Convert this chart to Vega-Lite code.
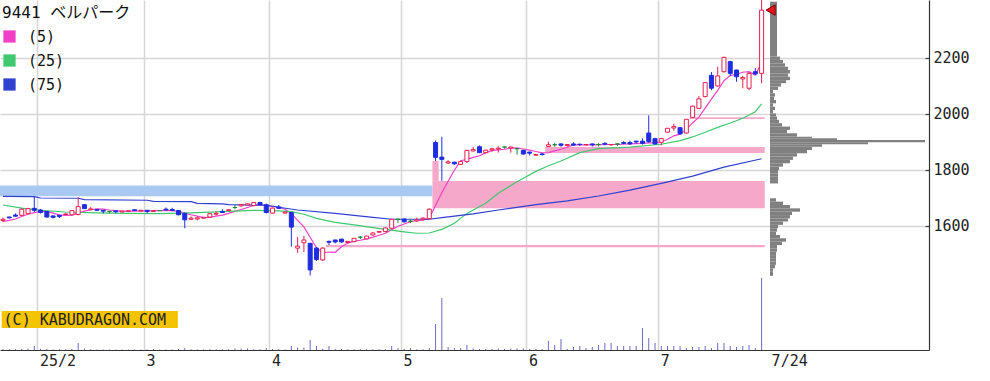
{
  "$schema": "https://vega.github.io/schema/vega-lite/v6.json",
  "width": 929,
  "height": 350,
  "autosize": {"type": "none"},
  "padding": {"left": 0, "top": 0, "right": 61, "bottom": 31},
  "background": "white",
  "config": {
    "view": {"stroke": null},
    "scale": {"continuousPadding": 0},
    "axis": {"gridColor": "#d6d6d6", "gridWidth": 1.5, "domainColor": "#333333", "domainWidth": 1.2, "labelFont": "DejaVu Sans Mono", "labelFontSize": 15, "labelColor": "#222222", "ticks": false, "title": null}
  },
  "datasets": {
    "candles": [
      {"n":0,"o":1620,"h":1630,"l":1614,"c":1624,"v":10},
      {"n":1,"o":1632,"h":1633,"l":1627,"c":1629,"v":8},
      {"n":2,"o":1639,"h":1645,"l":1634,"c":1635,"v":8},
      {"n":3,"o":1638,"h":1663,"l":1635,"c":1660,"v":12},
      {"n":4,"o":1644,"h":1665,"l":1642,"c":1662,"v":15},
      {"n":5,"o":1663,"h":1704,"l":1650,"c":1656,"v":40},
      {"n":6,"o":1657,"h":1661,"l":1645,"c":1648,"v":12},
      {"n":7,"o":1652,"h":1654,"l":1630,"c":1632,"v":12},
      {"n":8,"o":1636,"h":1637,"l":1627,"c":1631,"v":8},
      {"n":9,"o":1638,"h":1639,"l":1628,"c":1634,"v":8},
      {"n":10,"o":1641,"h":1645,"l":1640,"c":1643,"v":6},
      {"n":11,"o":1640,"h":1656,"l":1638,"c":1655,"v":10},
      {"n":12,"o":1641,"h":1702,"l":1638,"c":1669,"v":70},
      {"n":13,"o":1676,"h":1678,"l":1661,"c":1662,"v":15},
      {"n":14,"o":1658,"h":1668,"l":1657,"c":1661,"v":8},
      {"n":15,"o":1659,"h":1660,"l":1655,"c":1656,"v":6},
      {"n":16,"o":1656,"h":1657,"l":1645,"c":1653,"v":6},
      {"n":17,"o":1652,"h":1653,"l":1645,"c":1652,"v":5},
      {"n":18,"o":1654,"h":1655,"l":1645,"c":1651,"v":5},
      {"n":19,"o":1650,"h":1654,"l":1649,"c":1653,"v":5},
      {"n":20,"o":1652,"h":1655,"l":1651,"c":1654,"v":5},
      {"n":21,"o":1658,"h":1659,"l":1654,"c":1655,"v":6},
      {"n":22,"o":1653,"h":1657,"l":1652,"c":1656,"v":6},
      {"n":23,"o":1656,"h":1657,"l":1645,"c":1652,"v":6},
      {"n":24,"o":1652,"h":1656,"l":1651,"c":1655,"v":10},
      {"n":25,"o":1655,"h":1656,"l":1654,"c":1655,"v":5},
      {"n":26,"o":1660,"h":1666,"l":1657,"c":1657,"v":6},
      {"n":27,"o":1659,"h":1665,"l":1654,"c":1655,"v":6},
      {"n":28,"o":1655,"h":1656,"l":1638,"c":1640,"v":8},
      {"n":29,"o":1645,"h":1648,"l":1592,"c":1622,"v":20},
      {"n":30,"o":1624,"h":1634,"l":1622,"c":1628,"v":8},
      {"n":31,"o":1625,"h":1634,"l":1620,"c":1629,"v":6},
      {"n":32,"o":1628,"h":1632,"l":1627,"c":1631,"v":6},
      {"n":33,"o":1632,"h":1645,"l":1630,"c":1644,"v":8},
      {"n":34,"o":1642,"h":1652,"l":1638,"c":1645,"v":6},
      {"n":35,"o":1652,"h":1660,"l":1647,"c":1648,"v":8},
      {"n":36,"o":1655,"h":1659,"l":1654,"c":1658,"v":8},
      {"n":37,"o":1666,"h":1675,"l":1660,"c":1666,"v":15},
      {"n":38,"o":1672,"h":1678,"l":1668,"c":1677,"v":15},
      {"n":39,"o":1675,"h":1680,"l":1674,"c":1679,"v":15},
      {"n":40,"o":1673,"h":1685,"l":1672,"c":1684,"v":8},
      {"n":41,"o":1684,"h":1686,"l":1675,"c":1676,"v":8},
      {"n":42,"o":1676,"h":1680,"l":1645,"c":1648,"v":20},
      {"n":43,"o":1646,"h":1665,"l":1644,"c":1664,"v":10},
      {"n":44,"o":1668,"h":1675,"l":1662,"c":1663,"v":8},
      {"n":45,"o":1646,"h":1652,"l":1644,"c":1650,"v":8},
      {"n":46,"o":1648,"h":1650,"l":1526,"c":1596,"v":40},
      {"n":47,"o":1521,"h":1561,"l":1504,"c":1528,"v":25},
      {"n":48,"o":1540,"h":1565,"l":1507,"c":1550,"v":25},
      {"n":49,"o":1538,"h":1540,"l":1423,"c":1443,"v":100},
      {"n":50,"o":1521,"h":1525,"l":1475,"c":1480,"v":40},
      {"n":51,"o":1479,"h":1524,"l":1475,"c":1521,"v":12},
      {"n":52,"o":1545,"h":1548,"l":1532,"c":1542,"v":40},
      {"n":53,"o":1550,"h":1551,"l":1538,"c":1543,"v":10},
      {"n":54,"o":1553,"h":1554,"l":1540,"c":1543,"v":8},
      {"n":55,"o":1541,"h":1546,"l":1539,"c":1545,"v":8},
      {"n":56,"o":1544,"h":1557,"l":1542,"c":1556,"v":8},
      {"n":57,"o":1560,"h":1564,"l":1553,"c":1560,"v":8},
      {"n":58,"o":1554,"h":1565,"l":1552,"c":1564,"v":8},
      {"n":59,"o":1568,"h":1578,"l":1565,"c":1575,"v":8},
      {"n":60,"o":1578,"h":1582,"l":1576,"c":1580,"v":8},
      {"n":61,"o":1580,"h":1594,"l":1578,"c":1593,"v":8},
      {"n":62,"o":1592,"h":1626,"l":1590,"c":1624,"v":40},
      {"n":63,"o":1624,"h":1625,"l":1610,"c":1624,"v":20},
      {"n":64,"o":1625,"h":1626,"l":1612,"c":1615,"v":10},
      {"n":65,"o":1617,"h":1625,"l":1610,"c":1617,"v":20},
      {"n":66,"o":1618,"h":1630,"l":1614,"c":1622,"v":8},
      {"n":67,"o":1624,"h":1632,"l":1620,"c":1628,"v":8},
      {"n":68,"o":1626,"h":1663,"l":1622,"c":1660,"v":20},
      {"n":69,"o":1898,"h":1905,"l":1832,"c":1845,"v":260},
      {"n":70,"o":1846,"h":1919,"l":1761,"c":1838,"v":520},
      {"n":71,"o":1825,"h":1835,"l":1822,"c":1829,"v":30},
      {"n":72,"o":1828,"h":1829,"l":1818,"c":1822,"v":20},
      {"n":73,"o":1820,"h":1831,"l":1819,"c":1830,"v":20},
      {"n":74,"o":1830,"h":1872,"l":1825,"c":1870,"v":50},
      {"n":75,"o":1868,"h":1882,"l":1866,"c":1873,"v":15},
      {"n":76,"o":1883,"h":1888,"l":1860,"c":1862,"v":10},
      {"n":77,"o":1862,"h":1872,"l":1860,"c":1871,"v":10},
      {"n":78,"o":1872,"h":1877,"l":1865,"c":1876,"v":10},
      {"n":79,"o":1875,"h":1885,"l":1862,"c":1878,"v":15},
      {"n":80,"o":1882,"h":1883,"l":1876,"c":1882,"v":10},
      {"n":81,"o":1878,"h":1883,"l":1862,"c":1882,"v":15},
      {"n":82,"o":1876,"h":1877,"l":1855,"c":1876,"v":15},
      {"n":83,"o":1870,"h":1872,"l":1855,"c":1857,"v":15},
      {"n":84,"o":1864,"h":1865,"l":1852,"c":1860,"v":10},
      {"n":85,"o":1853,"h":1857,"l":1850,"c":1855,"v":10},
      {"n":86,"o":1857,"h":1861,"l":1852,"c":1855,"v":10},
      {"n":87,"o":1884,"h":1901,"l":1882,"c":1890,"v":90},
      {"n":88,"o":1890,"h":1897,"l":1883,"c":1890,"v":50},
      {"n":89,"o":1893,"h":1895,"l":1883,"c":1888,"v":110},
      {"n":90,"o":1887,"h":1893,"l":1884,"c":1891,"v":10},
      {"n":91,"o":1893,"h":1899,"l":1886,"c":1889,"v":30},
      {"n":92,"o":1892,"h":1894,"l":1886,"c":1891,"v":40},
      {"n":93,"o":1890,"h":1892,"l":1887,"c":1891,"v":20},
      {"n":94,"o":1893,"h":1894,"l":1884,"c":1890,"v":30},
      {"n":95,"o":1891,"h":1896,"l":1884,"c":1891,"v":50},
      {"n":96,"o":1895,"h":1899,"l":1888,"c":1892,"v":70},
      {"n":97,"o":1890,"h":1892,"l":1887,"c":1891,"v":70},
      {"n":98,"o":1893,"h":1894,"l":1886,"c":1893,"v":40},
      {"n":99,"o":1898,"h":1903,"l":1892,"c":1895,"v":40},
      {"n":100,"o":1898,"h":1905,"l":1890,"c":1893,"v":40},
      {"n":101,"o":1903,"h":1904,"l":1894,"c":1900,"v":40},
      {"n":102,"o":1903,"h":1913,"l":1891,"c":1895,"v":220},
      {"n":103,"o":1932,"h":1995,"l":1897,"c":1901,"v":120},
      {"n":104,"o":1912,"h":1915,"l":1890,"c":1893,"v":70},
      {"n":105,"o":1899,"h":1913,"l":1888,"c":1912,"v":40},
      {"n":106,"o":1935,"h":1950,"l":1933,"c":1949,"v":40},
      {"n":107,"o":1950,"h":1965,"l":1940,"c":1955,"v":40},
      {"n":108,"o":1951,"h":1953,"l":1925,"c":1929,"v":40},
      {"n":109,"o":1932,"h":1982,"l":1930,"c":1981,"v":20},
      {"n":110,"o":1988,"h":2030,"l":1988,"c":2028,"v":30},
      {"n":111,"o":2020,"h":2064,"l":2018,"c":2054,"v":30},
      {"n":112,"o":2062,"h":2114,"l":2060,"c":2112,"v":40},
      {"n":113,"o":2138,"h":2150,"l":2085,"c":2092,"v":20},
      {"n":114,"o":2100,"h":2169,"l":2098,"c":2136,"v":70},
      {"n":115,"o":2151,"h":2205,"l":2148,"c":2202,"v":70},
      {"n":116,"o":2187,"h":2190,"l":2136,"c":2145,"v":40},
      {"n":117,"o":2157,"h":2158,"l":2115,"c":2133,"v":30},
      {"n":118,"o":2125,"h":2136,"l":2092,"c":2130,"v":40},
      {"n":119,"o":2092,"h":2150,"l":2085,"c":2145,"v":50},
      {"n":120,"o":2151,"h":2164,"l":2140,"c":2143,"v":20},
      {"n":121,"o":2145,"h":2407,"l":2110,"c":2371,"v":720}
    ],
    "ma": [
      {"n":0,"k":"(5)","val":1616},{"n":1,"k":"(5)","val":1620},{"n":2,"k":"(5)","val":1625},{"n":3,"k":"(5)","val":1634},{"n":4,"k":"(5)","val":1642},{"n":5,"k":"(5)","val":1648},{"n":6,"k":"(5)","val":1652},{"n":7,"k":"(5)","val":1652},{"n":8,"k":"(5)","val":1646},{"n":9,"k":"(5)","val":1640},{"n":10,"k":"(5)","val":1638},{"n":11,"k":"(5)","val":1639},{"n":12,"k":"(5)","val":1646},{"n":13,"k":"(5)","val":1653},{"n":14,"k":"(5)","val":1658},{"n":15,"k":"(5)","val":1661},{"n":16,"k":"(5)","val":1660},{"n":17,"k":"(5)","val":1657},{"n":18,"k":"(5)","val":1655},{"n":19,"k":"(5)","val":1653},{"n":20,"k":"(5)","val":1653},{"n":21,"k":"(5)","val":1653},{"n":22,"k":"(5)","val":1654},{"n":23,"k":"(5)","val":1654},{"n":24,"k":"(5)","val":1654},{"n":25,"k":"(5)","val":1655},{"n":26,"k":"(5)","val":1655},{"n":27,"k":"(5)","val":1655},{"n":28,"k":"(5)","val":1652},{"n":29,"k":"(5)","val":1646},{"n":30,"k":"(5)","val":1640},{"n":31,"k":"(5)","val":1635},{"n":32,"k":"(5)","val":1630},{"n":33,"k":"(5)","val":1631},{"n":34,"k":"(5)","val":1635},{"n":35,"k":"(5)","val":1639},{"n":36,"k":"(5)","val":1645},{"n":37,"k":"(5)","val":1652},{"n":38,"k":"(5)","val":1659},{"n":39,"k":"(5)","val":1666},{"n":40,"k":"(5)","val":1673},{"n":41,"k":"(5)","val":1676},{"n":42,"k":"(5)","val":1673},{"n":43,"k":"(5)","val":1670},{"n":44,"k":"(5)","val":1667},{"n":45,"k":"(5)","val":1660},{"n":46,"k":"(5)","val":1644},{"n":47,"k":"(5)","val":1620},{"n":48,"k":"(5)","val":1597},{"n":49,"k":"(5)","val":1560},{"n":50,"k":"(5)","val":1522},{"n":51,"k":"(5)","val":1504},{"n":52,"k":"(5)","val":1507},{"n":53,"k":"(5)","val":1506},{"n":54,"k":"(5)","val":1526},{"n":55,"k":"(5)","val":1539},{"n":56,"k":"(5)","val":1546},{"n":57,"k":"(5)","val":1549},{"n":58,"k":"(5)","val":1554},{"n":59,"k":"(5)","val":1560},{"n":60,"k":"(5)","val":1567},{"n":61,"k":"(5)","val":1574},{"n":62,"k":"(5)","val":1587},{"n":63,"k":"(5)","val":1599},{"n":64,"k":"(5)","val":1607},{"n":65,"k":"(5)","val":1615},{"n":66,"k":"(5)","val":1620},{"n":67,"k":"(5)","val":1621},{"n":68,"k":"(5)","val":1628},{"n":69,"k":"(5)","val":1674},{"n":70,"k":"(5)","val":1719},{"n":71,"k":"(5)","val":1760},{"n":72,"k":"(5)","val":1799},{"n":73,"k":"(5)","val":1833},{"n":74,"k":"(5)","val":1838},{"n":75,"k":"(5)","val":1845},{"n":76,"k":"(5)","val":1851},{"n":77,"k":"(5)","val":1861},{"n":78,"k":"(5)","val":1870},{"n":79,"k":"(5)","val":1872},{"n":80,"k":"(5)","val":1874},{"n":81,"k":"(5)","val":1878},{"n":82,"k":"(5)","val":1879},{"n":83,"k":"(5)","val":1875},{"n":84,"k":"(5)","val":1871},{"n":85,"k":"(5)","val":1866},{"n":86,"k":"(5)","val":1861},{"n":87,"k":"(5)","val":1862},{"n":88,"k":"(5)","val":1868},{"n":89,"k":"(5)","val":1874},{"n":90,"k":"(5)","val":1881},{"n":91,"k":"(5)","val":1890},{"n":92,"k":"(5)","val":1890},{"n":93,"k":"(5)","val":1890},{"n":94,"k":"(5)","val":1890},{"n":95,"k":"(5)","val":1890},{"n":96,"k":"(5)","val":1891},{"n":97,"k":"(5)","val":1891},{"n":98,"k":"(5)","val":1891},{"n":99,"k":"(5)","val":1892},{"n":100,"k":"(5)","val":1893},{"n":101,"k":"(5)","val":1894},{"n":102,"k":"(5)","val":1895},{"n":103,"k":"(5)","val":1897},{"n":104,"k":"(5)","val":1897},{"n":105,"k":"(5)","val":1900},{"n":106,"k":"(5)","val":1910},{"n":107,"k":"(5)","val":1922},{"n":108,"k":"(5)","val":1928},{"n":109,"k":"(5)","val":1945},{"n":110,"k":"(5)","val":1968},{"n":111,"k":"(5)","val":1989},{"n":112,"k":"(5)","val":2021},{"n":113,"k":"(5)","val":2053},{"n":114,"k":"(5)","val":2084},{"n":115,"k":"(5)","val":2119},{"n":116,"k":"(5)","val":2137},{"n":117,"k":"(5)","val":2142},{"n":118,"k":"(5)","val":2149},{"n":119,"k":"(5)","val":2151},{"n":120,"k":"(5)","val":2139},{"n":121,"k":"(5)","val":2184},
      {"n":0,"k":"(25)","val":1675},{"n":3,"k":"(25)","val":1664},{"n":6,"k":"(25)","val":1656},{"n":10,"k":"(25)","val":1650},{"n":15,"k":"(25)","val":1647},{"n":20,"k":"(25)","val":1645},{"n":25,"k":"(25)","val":1644},{"n":30,"k":"(25)","val":1647},{"n":35,"k":"(25)","val":1651},{"n":40,"k":"(25)","val":1656},{"n":44,"k":"(25)","val":1654},{"n":46,"k":"(25)","val":1651},{"n":48,"k":"(25)","val":1642},{"n":50,"k":"(25)","val":1627},{"n":53,"k":"(25)","val":1613},{"n":56,"k":"(25)","val":1604},{"n":59,"k":"(25)","val":1594},{"n":61,"k":"(25)","val":1588},{"n":64,"k":"(25)","val":1579},{"n":66,"k":"(25)","val":1574},{"n":68,"k":"(25)","val":1575},{"n":70,"k":"(25)","val":1588},{"n":72,"k":"(25)","val":1610},{"n":74,"k":"(25)","val":1645},{"n":77,"k":"(25)","val":1681},{"n":79,"k":"(25)","val":1717},{"n":82,"k":"(25)","val":1758},{"n":85,"k":"(25)","val":1795},{"n":87,"k":"(25)","val":1815},{"n":89,"k":"(25)","val":1832},{"n":92,"k":"(25)","val":1862},{"n":95,"k":"(25)","val":1876},{"n":100,"k":"(25)","val":1882},{"n":105,"k":"(25)","val":1892},{"n":108,"k":"(25)","val":1905},{"n":110,"k":"(25)","val":1918},{"n":112,"k":"(25)","val":1935},{"n":114,"k":"(25)","val":1952},{"n":116,"k":"(25)","val":1968},{"n":118,"k":"(25)","val":1985},{"n":120,"k":"(25)","val":2008},{"n":121,"k":"(25)","val":2036},
      {"n":0,"k":"(75)","val":1706},{"n":5,"k":"(75)","val":1705},{"n":6,"k":"(75)","val":1700},{"n":12,"k":"(75)","val":1699},{"n":13,"k":"(75)","val":1694},{"n":23,"k":"(75)","val":1692},{"n":24,"k":"(75)","val":1688},{"n":30,"k":"(75)","val":1687},{"n":31,"k":"(75)","val":1681},{"n":35,"k":"(75)","val":1679},{"n":36,"k":"(75)","val":1676},{"n":42,"k":"(75)","val":1674},{"n":44,"k":"(75)","val":1667},{"n":47,"k":"(75)","val":1657},{"n":53,"k":"(75)","val":1645},{"n":59,"k":"(75)","val":1631},{"n":62,"k":"(75)","val":1624},{"n":68,"k":"(75)","val":1624},{"n":70,"k":"(75)","val":1630},{"n":75,"k":"(75)","val":1643},{"n":79,"k":"(75)","val":1657},{"n":85,"k":"(75)","val":1676},{"n":90,"k":"(75)","val":1690},{"n":95,"k":"(75)","val":1707},{"n":100,"k":"(75)","val":1728},{"n":105,"k":"(75)","val":1752},{"n":110,"k":"(75)","val":1778},{"n":115,"k":"(75)","val":1810},{"n":121,"k":"(75)","val":1840}
    ],
    "gaps": [
      {"from":-0.47,"to":68.5,"lo":1706,"hi":1745,"kind":"down"},
      {"from":68.5,"to":69.5,"lo":1761,"hi":1832,"kind":"up"},
      {"from":68.5,"to":121.5,"lo":1663,"hi":1761,"kind":"up"},
      {"from":86.5,"to":121.5,"lo":1861,"hi":1882,"kind":"up"},
      {"from":109.5,"to":121.5,"lo":1982,"hi":1988,"kind":"up"},
      {"from":51.5,"to":121.5,"lo":1524,"hi":1532,"kind":"up"}
    ],
    "profile": [
      {"lo":2205,"hi":2401,"w":7},
      {"lo":2193,"hi":2205,"w":10},{"lo":2181,"hi":2193,"w":13},{"lo":2169,"hi":2181,"w":15},{"lo":2157,"hi":2169,"w":18},{"lo":2145,"hi":2157,"w":20},{"lo":2133,"hi":2145,"w":18},{"lo":2121,"hi":2133,"w":20},{"lo":2110,"hi":2121,"w":16},{"lo":2098,"hi":2110,"w":11},{"lo":2086,"hi":2098,"w":8},
      {"lo":2074,"hi":2086,"w":3},{"lo":2062,"hi":2074,"w":5},{"lo":2050,"hi":2062,"w":4},{"lo":2038,"hi":2050,"w":6},{"lo":2026,"hi":2038,"w":3},{"lo":2014,"hi":2026,"w":5},{"lo":2002,"hi":2014,"w":3},{"lo":1991,"hi":2002,"w":6},
      {"lo":1979,"hi":1991,"w":7},{"lo":1967,"hi":1979,"w":9},{"lo":1955,"hi":1967,"w":12},{"lo":1943,"hi":1955,"w":20},{"lo":1931,"hi":1943,"w":17},{"lo":1919,"hi":1931,"w":27},{"lo":1913,"hi":1919,"w":42},{"lo":1907,"hi":1913,"w":67},{"lo":1899,"hi":1907,"w":155},{"lo":1892,"hi":1899,"w":98},{"lo":1883,"hi":1892,"w":52},
      {"lo":1871,"hi":1883,"w":42},{"lo":1860,"hi":1871,"w":37},{"lo":1848,"hi":1860,"w":27},{"lo":1836,"hi":1848,"w":23},{"lo":1824,"hi":1836,"w":20},{"lo":1812,"hi":1824,"w":13},{"lo":1800,"hi":1812,"w":9},{"lo":1788,"hi":1800,"w":8},{"lo":1776,"hi":1788,"w":8},{"lo":1764,"hi":1776,"w":8},{"lo":1752,"hi":1764,"w":8},
      {"lo":1687,"hi":1699,"w":6},{"lo":1675,"hi":1687,"w":13},{"lo":1663,"hi":1675,"w":20},{"lo":1651,"hi":1663,"w":30},{"lo":1639,"hi":1651,"w":22},{"lo":1627,"hi":1639,"w":20},{"lo":1616,"hi":1627,"w":18},{"lo":1604,"hi":1616,"w":13},{"lo":1592,"hi":1604,"w":8},{"lo":1580,"hi":1592,"w":7},{"lo":1568,"hi":1580,"w":6},{"lo":1556,"hi":1568,"w":10},{"lo":1544,"hi":1556,"w":16},{"lo":1532,"hi":1544,"w":12},{"lo":1520,"hi":1532,"w":7},{"lo":1508,"hi":1520,"w":7},{"lo":1496,"hi":1508,"w":6},{"lo":1485,"hi":1496,"w":6},{"lo":1473,"hi":1485,"w":6},{"lo":1461,"hi":1473,"w":6},{"lo":1449,"hi":1461,"w":5},{"lo":1437,"hi":1449,"w":3},{"lo":1422,"hi":1437,"w":3}
    ]
  },
  "layer": [
    {
      "layer": [
        {
          "data": {"name": "gaps"},
          "mark": {"type": "rect", "clip": true},
          "encoding": {
            "x": {"field": "from", "type": "quantitative", "title": null, "scale": {"domain": [-0.47, 147.7], "nice": false, "zero": false, "padding": 0},
              "axis": {"values": [5.5, 22.5, 42.5, 63.5, 83.5, 104.5, 122.2], "labelExpr": "datum.value < 6 ? '25/2' : datum.value < 23 ? '3' : datum.value < 43 ? '4' : datum.value < 64 ? '5' : datum.value < 84 ? '6' : datum.value < 105 ? '7' : '7/24'", "grid": true, "gridColor": {"condition": {"test": "datum.value > 120", "value": "rgba(0,0,0,0)"}, "value": "#d6d6d6"}, "labelAlign": "left", "labelOffset": 2, "labelPadding": 3, "labelBaseline": "top", "labelOverlap": false, "labelFlush": false}},
            "x2": {"field": "to"},
            "y": {"field": "lo", "type": "quantitative", "title": null, "scale": {"domain": [1157.1, 2407.1], "nice": false, "zero": false, "padding": 0},
              "axis": {"orient": "right", "values": [1600, 1800, 2000, 2200], "format": "d", "grid": true, "ticks": true, "tickSize": -4, "tickColor": "#444444", "tickWidth": 1.2, "labelPadding": 8, "labelBaseline": "middle"}},
            "y2": {"field": "hi"},
            "fill": {"field": "kind", "type": "nominal", "scale": {"domain": ["up", "down"], "range": ["#f6a8ca", "#a9c9f3"]}, "legend": null}
          }
        },
        {
          "data": {"name": "ma"},
          "mark": {"type": "line", "strokeWidth": 1.2, "clip": true},
          "encoding": {
            "x": {"field": "n", "type": "quantitative", "title": null, "scale": {"domain": [-0.47, 147.7], "nice": false, "zero": false, "padding": 0}},
            "y": {"field": "val", "type": "quantitative", "title": null, "scale": {"domain": [1157.1, 2407.1], "nice": false, "zero": false, "padding": 0}},
            "color": {"field": "k", "type": "nominal", "scale": {"domain": ["(5)", "(25)", "(75)"], "range": ["#f040c8", "#40c870", "#3040d0"]},
              "legend": {"orient": "none", "legendX": 2, "legendY": 5, "title": "9441 ベルパーク", "titleFont": "DejaVu Sans Mono, Noto Sans CJK JP", "titleFontSize": 16, "titleFontWeight": "normal", "titleColor": "#111111", "titlePadding": 8, "symbolType": "square", "symbolSize": 150, "symbolStrokeWidth": 0, "labelFont": "DejaVu Sans Mono", "labelFontSize": 15, "labelColor": "#111111", "labelOffset": 11, "rowPadding": 8, "padding": 0,
                "encode": {"symbols": {"update": {"fill": {"scale": "color", "field": "value"}, "fillOpacity": {"value": 1}}}}}}
          }
        },
        {
          "data": {"name": "candles"},
          "mark": {"type": "rule", "strokeWidth": 1, "clip": true},
          "encoding": {
            "x": {"field": "n", "type": "quantitative", "title": null, "scale": {"domain": [-0.47, 147.7], "nice": false, "zero": false, "padding": 0}},
            "y": {"field": "l", "type": "quantitative", "title": null, "scale": {"domain": [1157.1, 2407.1], "nice": false, "zero": false, "padding": 0}},
            "y2": {"field": "h"},
            "color": {"condition": [{"test": "datum.c > datum.o", "value": "#e61e50"}, {"test": "datum.c < datum.o", "value": "#1f2de0"}], "value": "#1a8a3a"}
          }
        },
        {
          "data": {"name": "candles"},
          "mark": {"type": "bar", "size": 4, "strokeWidth": 1, "clip": true},
          "encoding": {
            "x": {"field": "n", "type": "quantitative", "title": null, "scale": {"domain": [-0.47, 147.7], "nice": false, "zero": false, "padding": 0}},
            "y": {"field": "o", "type": "quantitative", "title": null, "scale": {"domain": [1157.1, 2407.1], "nice": false, "zero": false, "padding": 0}},
            "y2": {"field": "c"},
            "fill": {"condition": [{"test": "datum.c > datum.o", "value": "#ffffff"}, {"test": "datum.c < datum.o", "value": "#1f2de0"}], "value": "#1a8a3a"},
            "stroke": {"condition": [{"test": "datum.c > datum.o", "value": "#e61e50"}, {"test": "datum.c < datum.o", "value": "#1f2de0"}], "value": "#1a8a3a"}
          }
        },
        {
          "data": {"values": [{"label": "(C) KABUDRAGON.COM"}]},
          "mark": {"type": "rect", "fill": "#f5c400"},
          "encoding": {
            "x": {"datum": -0.2, "type": "quantitative", "scale": {"domain": [-0.47, 147.7], "nice": false, "zero": false, "padding": 0}},
            "x2": {"datum": 27.9},
            "y": {"datum": 1236, "type": "quantitative", "scale": {"domain": [1157.1, 2407.1], "nice": false, "zero": false, "padding": 0}},
            "y2": {"datum": 1296}
          }
        },
        {
          "data": {"values": [{"label": "(C) KABUDRAGON.COM"}]},
          "mark": {"type": "text", "align": "left", "baseline": "middle", "font": "DejaVu Sans Mono", "fontSize": 15, "fill": "#222222"},
          "encoding": {
            "x": {"datum": 0.1, "type": "quantitative", "scale": {"domain": [-0.47, 147.7], "nice": false, "zero": false, "padding": 0}},
            "y": {"datum": 1265, "type": "quantitative", "scale": {"domain": [1157.1, 2407.1], "nice": false, "zero": false, "padding": 0}},
            "text": {"field": "label"}
          }
        }
      ]
    },
    {
      "data": {"name": "candles"},
      "mark": {"type": "rule", "strokeWidth": 1, "color": "#6a6ac8"},
      "encoding": {
        "x": {"field": "n", "type": "quantitative", "axis": null, "scale": {"domain": [-0.47, 147.7], "nice": false, "zero": false, "padding": 0}},
        "y": {"field": "v", "type": "quantitative", "axis": null, "scale": {"domain": [0, 3500], "nice": false, "padding": 0}},
        "y2": {"datum": 0}
      }
    },
    {
      "data": {"name": "profile"},
      "mark": {"type": "rect", "fill": "#808080"},
      "encoding": {
        "x": {"field": "w", "type": "quantitative", "axis": null, "scale": {"domain": [0, 159], "range": [770, 929], "nice": false, "zero": false, "padding": 0}},
        "x2": {"datum": 0},
        "y": {"field": "lo", "type": "quantitative", "axis": null, "scale": {"domain": [1157.1, 2407.1], "nice": false, "zero": false, "padding": 0}},
        "y2": {"field": "hi"}
      }
    },
    {
      "data": {"name": "candles"},
      "transform": [{"filter": "datum.n == 121"}],
      "mark": {"type": "point", "shape": "triangle-left", "size": 110, "filled": true, "fill": "#e8141c", "stroke": "#7a0000", "strokeWidth": 1, "opacity": 1, "xOffset": 9},
      "encoding": {
        "x": {"field": "n", "type": "quantitative", "axis": null, "scale": {"domain": [-0.47, 147.7], "nice": false, "zero": false, "padding": 0}},
        "y": {"field": "c", "type": "quantitative", "axis": null, "scale": {"domain": [1157.1, 2407.1], "nice": false, "zero": false, "padding": 0}}
      }
    }
  ],
  "resolve": {"scale": {"x": "independent", "y": "independent"}}
}
